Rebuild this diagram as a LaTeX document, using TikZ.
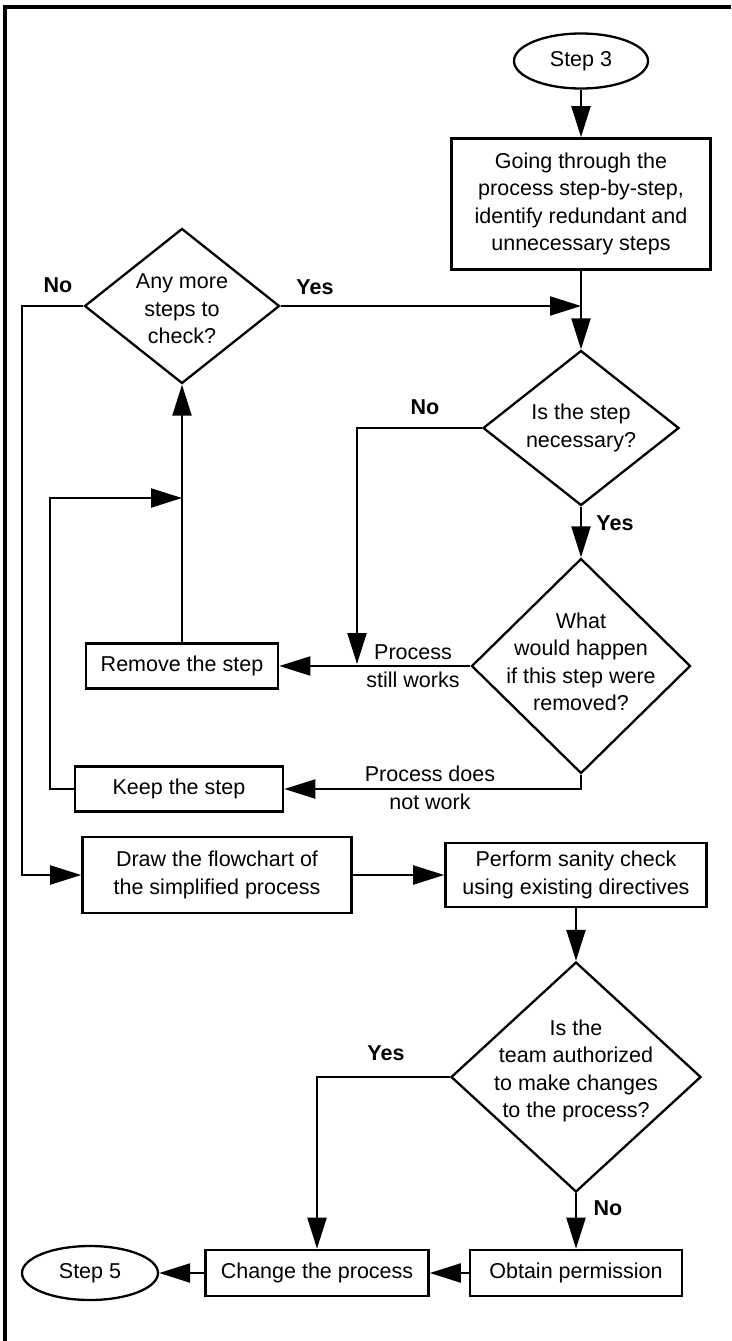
\documentclass[tikz,border=0pt]{standalone}
\usepackage{fontspec}
\setmainfont{Liberation Sans}
\usepackage{tikz}
\usetikzlibrary{shapes.geometric, arrows.meta, positioning}

\tikzset{
    process/.style = {draw, line width=2.6pt, rectangle, align=center, inner sep=0pt},
    decision/.style = {draw, line width=2.3pt, diamond, inner sep=0pt},
    terminal/.style = {draw, line width=2.3pt, ellipse, inner sep=0pt},
    answer/.style = {font=\fontsize{21.5}{27.5}\selectfont\bfseries},
    flow/.style = {line width=2.2pt, -{Triangle[length=31pt, width=19pt]}}
}

\begin{document}
\begin{tikzpicture} [x=1pt, y=1pt,
            on grid,
            font=\fontsize{21.5}{27.5}\selectfont]

        \useasboundingbox (0,0) rectangle (731,-1341);

        % Frame
        \draw [line width=4.5pt] (731,-7) -- (5,-7) -- (5,-1341);

        % Step 3
        \node (step3) [terminal,
            minimum width=134pt, minimum height=55pt] at (581,-61) {Step 3};

        % Check the steps
        \node (check) [process,
            minimum width=259pt, minimum height=131pt,
            below = 143pt of step3] {Going through the\\process step-by-step,\\identify redundant and\\unnecessary steps};

        % Is the step necessary
        \node (necessary) [decision,
            minimum width=196pt, minimum height=155pt,
            below = 224pt of check,
            label={[align=center]center:Is the step\\necessary?}] {};

        % What would happen
        \node (happen) [decision,
            minimum width=219pt, minimum height=215pt,
            below = 238pt of necessary,
            label={[align=center, yshift=4pt]center:What\\would happen\\if this step were\\removed?}] {};

        % Any more steps
        \node (more) [decision,
            minimum width=195pt, minimum height=155pt,
            label={[align=center, yshift=-3pt]center:Any more\\steps to\\check?}] at (182,-306) {};

        % Remove the step
        \node (remove) [process,
            minimum width=192pt, minimum height=45pt,
            left = 399pt of happen] {Remove the step};

        % Keep the step
        \node (keep) [process,
            minimum width=208pt, minimum height=45pt] at (179,-789) {Keep the step};

        % Draw the flowchart
        \node (simplify) [process,
            minimum width=269pt, minimum height=76pt] at (217,-875) {Draw the flowchart of\\the simplified process};

        % Sanity check
        \node (sanity) [process,
            minimum width=261pt, minimum height=64pt,
            right = 359pt of simplify] {Perform sanity check\\using existing directives};

        % Is the team authorized
        \node (authorized) [decision,
            minimum width=250pt, minimum height=230pt,
            below = 202pt of sanity,
            label={[align=center, yshift=6pt]center:Is the\\team authorized\\to make changes\\to the process?}] {};

        % Obtain permission
        \node (obtain) [process,
            minimum width=212pt, minimum height=46pt,
            below = 196pt of authorized] {Obtain permission};

        % Change the process
        \node (change) [process,
            minimum width=223pt, minimum height=46pt,
            left = 259pt of obtain] {Change the process};

        % Step 5
        \node (step5) [terminal,
            minimum width=136pt, minimum height=54pt,
            left = 227pt of change] {Step 5};

        % Answers
        \node (nomore) [answer] at (58,-285) {No};
        \node (yesmore) [answer] at (315,-287) {Yes};
        \node (nonec) [answer] at (425,-407) {No};
        \node (yesnec) [answer] at (615,-523) {Yes};
        \node (works) at (413,-666) [align=center] {Process\\still works};
        \node (fails) at (430,-788) [align=center] {Process does\\not work};
        \node (yesauth) [answer] at (386,-1053) {Yes};
        \node (noauth) [answer] at (608,-1208) {No};

        \coordinate (stillin) at (357,-664);
        \coordinate (loopin) at (182,-498);

        % Arrows
        \path [flow]
            (step3) edge (check)
            (check) edge (necessary)
            (necessary) edge (happen)
            (happen) edge (remove)
            (remove) edge (more)
            (simplify) edge (sanity)
            (sanity) edge (authorized)
            (authorized) edge (obtain)
            (obtain) edge (change)
            (change) edge (step5);

        \draw [flow] (more.east) -- (more.east -| check.south);
        \draw [flow] (more.west) -- ++(-61,0) |- (simplify.west);
        \draw [flow] (necessary.west) -| (stillin);
        \draw [flow] (happen.south) |- (keep.east);
        \draw [flow] (keep.west) -- ++(-24,0) |- (loopin);
        \draw [flow] (authorized.west) -| (change.north);
\end{tikzpicture}
\end{document}
